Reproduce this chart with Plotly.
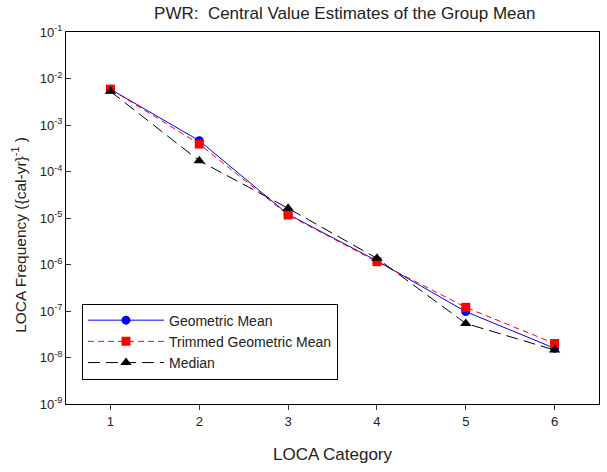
import plotly.graph_objects as go

categories = [1, 2, 3, 4, 5, 6]
geometric_mean = [5.9e-3, 4.6e-4, 1.2e-5, 1.2e-6, 9.7e-8, 1.58e-8]
trimmed_geometric_mean = [5.9e-3, 3.9e-4, 1.16e-5, 1.15e-6, 1.2e-7, 2.0e-8]
median = [5.3e-3, 1.7e-4, 1.62e-5, 1.36e-6, 5.4e-8, 1.45e-8]

series_names = ["Geometric Mean", "Trimmed Geometric Mean", "Median"]

y_tickvals = [1e-1, 1e-2, 1e-3, 1e-4, 1e-5, 1e-6, 1e-7, 1e-8, 1e-9]
y_ticktext = ["10<sup>-1</sup>", "10<sup>-2</sup>", "10<sup>-3</sup>", "10<sup>-4</sup>",
              "10<sup>-5</sup>", "10<sup>-6</sup>", "10<sup>-7</sup>", "10<sup>-8</sup>",
              "10<sup>-9</sup>"]

FONT = "Liberation Sans, Arial, sans-serif"
TXT = "#222222"

fig = go.Figure()
fig.add_trace(go.Scatter(
    x=categories, y=geometric_mean, name=series_names[0], mode="lines+markers",
    line=dict(color="#0000ff", width=1),
    marker=dict(symbol="circle", size=9, color="#0000ff")))
fig.add_trace(go.Scatter(
    x=categories, y=trimmed_geometric_mean, name=series_names[1], mode="lines+markers",
    line=dict(color="#ff0000", width=1, dash="6px,4px"),
    marker=dict(symbol="square", size=9, color="#ff0000")))
fig.add_trace(go.Scatter(
    x=categories, y=median, name=series_names[2], mode="lines+markers",
    line=dict(color="#000000", width=1, dash="12px,6px"),
    marker=dict(symbol="triangle-up", size=10, color="#000000")))

fig.update_layout(
    width=607, height=472,
    margin=dict(l=66, r=8, t=32, b=68),
    paper_bgcolor="white", plot_bgcolor="white",
    font=dict(family=FONT, color=TXT),
    title=dict(text="PWR:  Central Value Estimates of the Group Mean",
               x=0.568, xanchor="center", y=0.972, yanchor="middle",
               font=dict(size=17, family=FONT, color=TXT)),
    showlegend=True,
    legend=dict(x=0.03, y=0.27, xanchor="left", yanchor="top",
                bordercolor="#000000", borderwidth=1, bgcolor="white",
                font=dict(size=14, family=FONT, color=TXT),
                tracegroupgap=0, itemwidth=76),
    annotations=[dict(
        text="LOCA Frequency ({cal-yr}<sup>-1</sup> )", textangle=-90,
        xref="paper", yref="paper", x=-0.088, y=0.455, xanchor="center", yanchor="middle",
        showarrow=False, font=dict(size=15.5, family=FONT, color=TXT))],
)
fig.update_xaxes(
    range=[0.5, 6.5], tickvals=categories, ticks="outside", ticklen=5,
    tickcolor="#333333", showline=True, linecolor="#000000", linewidth=1, mirror=True,
    showgrid=False, zeroline=False, tickfont=dict(size=13, family=FONT, color=TXT),
    title=dict(text="LOCA Category", font=dict(size=17, family=FONT, color=TXT), standoff=20))
fig.update_yaxes(
    type="log", range=[-9, -1], tickvals=y_tickvals, ticktext=y_ticktext,
    ticks="inside", ticklen=5, tickcolor="#333333",
    showline=True, linecolor="#000000", linewidth=1, mirror=True,
    showgrid=False, zeroline=False, tickfont=dict(size=13, family=FONT, color=TXT))

fig.write_html("out.html")
